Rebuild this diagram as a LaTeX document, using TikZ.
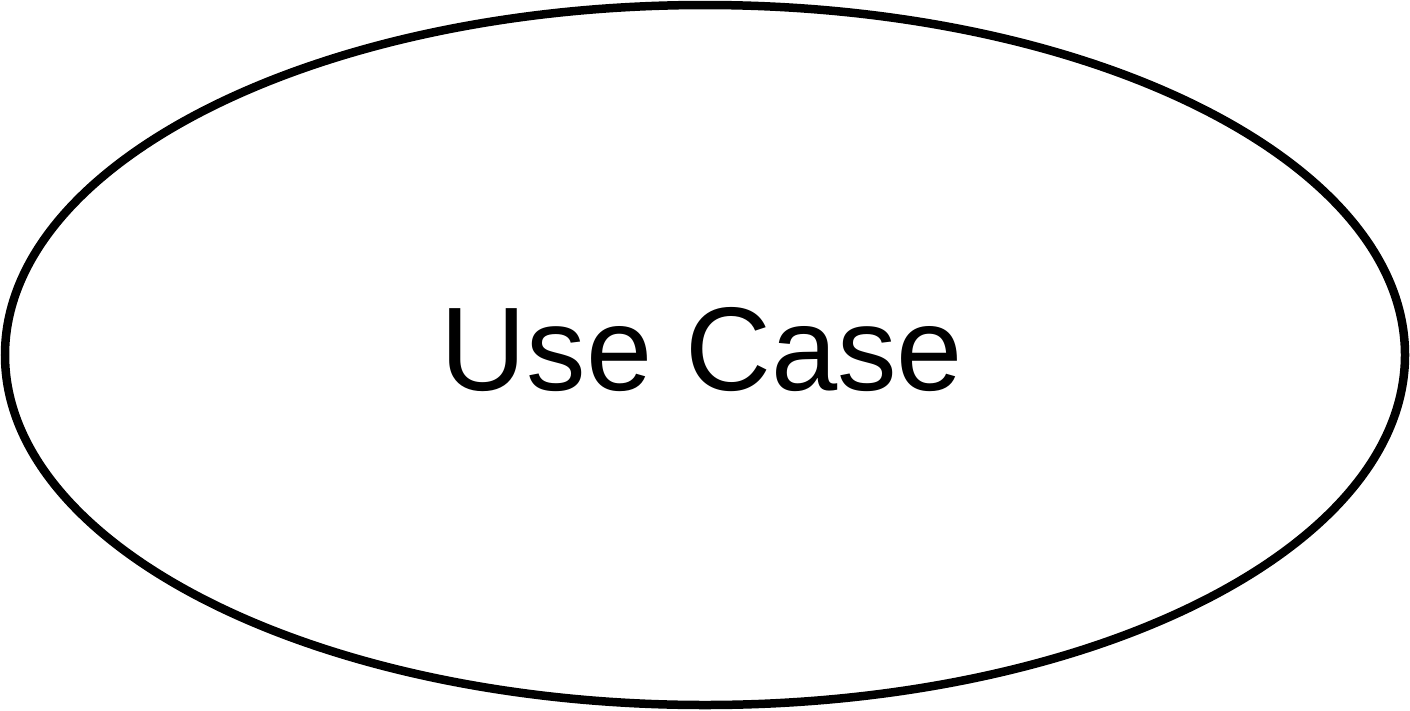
\documentclass[tikz,border=0pt]{standalone}
\usepackage{fontspec}
\setmainfont{Liberation Sans}
\usetikzlibrary{shapes.geometric}
\begin{document}
\begin{tikzpicture}[x=1pt,y=-1pt,
  usecase/.style={draw=black,line width=8.5pt,fill=white,ellipse,inner sep=0pt,minimum width=1400pt,minimum height=700pt},
  label/.style={anchor=base,inner sep=0pt,font=\fontsize{119}{140}\selectfont}]
\useasboundingbox (0,0) rectangle (1410,710);
\node[usecase] (uc) at (705,355) {};
\node[label] (txt) at (702,390) {Use Case};
\end{tikzpicture}
\end{document}
